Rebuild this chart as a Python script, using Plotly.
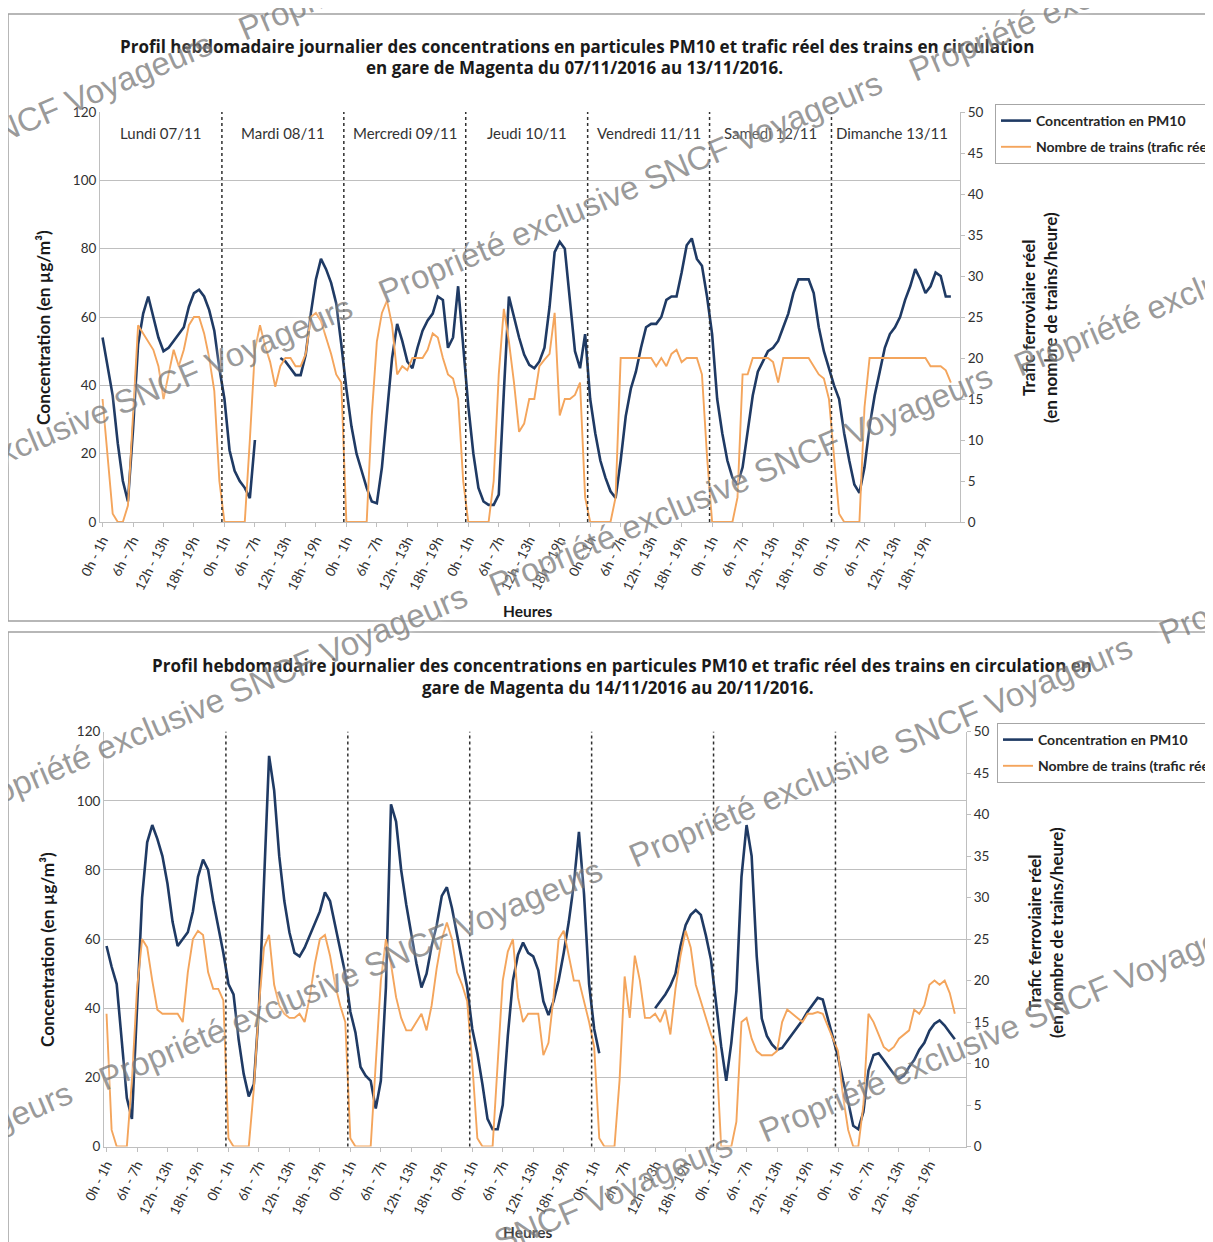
import plotly.graph_objects as go

W, H = 1213, 1242
OFF = 8  # page body margin of the browser


def PX(v):
    return (v - OFF) / W


def PY(v):
    return 1 - (v - OFF) / H


# ---------------- data ----------------
tick_hours = [0, 6, 12, 18]
tick_labels = ["0h - 1h", "6h - 7h", "12h - 13h", "18h - 19h"]

days_w1 = ["Lundi 07/11", "Mardi 08/11", "Mercredi 09/11", "Jeudi 10/11",
           "Vendredi 11/11", "Samedi 12/11", "Dimanche 13/11"]
days_w2 = ["Lundi 14/11", "Mardi 15/11", "Mercredi 16/11", "Jeudi 17/11",
           "Vendredi 18/11", "Samedi 19/11", "Dimanche 20/11"]

series_names = ["Concentration en PM10", "Nombre de trains (trafic réel)"]

# Semaine du 07/11 au 13/11 - concentration PM10 (µg/m³), une valeur par heure
pm10_w1 = (
    [54, 46, 37, 23, 12, 6, 27, 52, 61, 66, 60, 54, 50, 51, 53, 55, 57, 63, 67, 68, 66, 62, 56, 45]
    + [36, 21, 15, 12, 10, 7, 24, None, None, None, None, 48, 47, 45, 43, 43, 49, 61, 71, 77, 74, 70, 64, 52]
    + [39, 28, 20, 15, 10, 6, 5.5, 16, 32, 48, 58, 53, 47, 45, 51, 56, 59, 61, 66, 65, 51, 54, 69, 52]
    + [34, 20, 10, 6, 5, 5, 8, 38, 66, 60, 54, 49, 46, 45, 47, 51, 63, 79, 82, 80, 65, 50, 45, 55]
    + [36, 26, 18, 13, 9, 7, 18, 31, 39, 44, 51, 57, 58, 58, 60, 65, 66, 66, 73, 81, 83, 77, 75, 66]
    + [55, 36, 26, 18, 13, 11, 16, 26, 37, 44, 47, 50, 51, 53, 57, 61, 67, 71, 71, 71, 67, 57, 50, 45]
    + [40, 36, 26, 18, 11, 8.5, 16, 28, 37, 44, 51, 55, 57, 60, 65, 69, 74, 71, 67, 69, 73, 72, 66, 66]
)
# Semaine du 07/11 au 13/11 - nombre de trains par heure
trains_w1 = (
    [15, 8, 1, 0, 0, 2, 13, 24, 23, 22, 21, 19, 15, 18, 21, 19, 21, 24, 25, 25, 23, 20, 16, 5]
    + [0, 0, 0, 0, 0, 10, 21, 24, 21.5, 19.5, 16.5, 19, 20, 20, 19, 19, 20.5, 25, 25.5, 24.5, 22.5, 20.5, 18, 17]
    + [0, 0, 0, 0, 0, 13, 22, 25.5, 27, 24, 18, 19, 18.5, 20, 20, 20, 21, 23, 22.5, 20, 18, 17.5, 15, 5]
    + [0, 0, 0, 0, 0, 5, 18, 26, 22, 17, 11, 12, 15, 15, 19, 19.8, 20.5, 25.5, 13, 15, 15, 15.5, 17, 3]
    + [0, 0, 0, 0, 0, 3, 20, 20, 20, 20, 20, 20, 20, 19, 20, 19, 20.5, 21, 19.5, 20, 20, 20, 18, 8]
    + [0, 0, 0, 0, 0, 3, 18, 18, 20, 20, 20, 20, 19.5, 17, 20, 20, 20, 20, 20, 20, 19, 18, 17.5, 15]
    + [8, 1, 0, 0, 0, 0, 14, 20, 20, 20, 20, 20, 20, 20, 20, 20, 20, 20, 20, 19, 19, 19, 18.5, 17]
)
# Semaine du 14/11 au 20/11 - concentration PM10 (µg/m³)
pm10_w2 = (
    [58, 52, 47, 31, 14, 8, 39, 72, 88, 93, 89, 84, 76, 65, 58, 60, 62, 68, 78, 83, 80, 71, 64, 56]
    + [47, 44, 31, 21, 14.5, 18, 40, 75, 113, 103, 84, 71, 62, 56, 55, 57.5, 61, 64.5, 68, 73.5, 71, 64, 57, 50]
    + [39, 33, 23, 20.5, 19, 11, 19, 46, 99, 94, 80, 70, 61.5, 53, 46, 50, 58, 64, 72.5, 75, 69, 61, 54, 46]
    + [34, 27, 18, 8, 5, 5, 12, 32, 48, 55.5, 59, 56, 55, 51, 42, 38, 42, 48, 56, 65, 76, 91, 73, 47]
    + [34, 27, None, None, None, None, None, None, None, None, None, None, 40, 42, 44, 46.5, 50, 58, 64, 67, 68.4, 67, 61, 54]
    + [42, 29, 19, 30, 45, 78, 93, 84, 55, 37, 32, 29.5, 28, 28.5, 30.5, 32.5, 34.5, 36.5, 39, 41, 43, 42.5, 37, 32]
    + [26, 19, 13, 6, 5, 10, 22, 26.5, 27, 25, 23, 21, 19.5, 20.5, 23, 25, 28, 30, 33.5, 35.5, 36.5, 35, 33, 31]
)
# Semaine du 14/11 au 20/11 - nombre de trains par heure
trains_w2 = (
    [16, 2, 0, 0, 0, 8, 19, 25, 24, 20, 16.5, 16, 16, 16, 16, 15, 21, 25, 26, 25.5, 21, 19, 19, 17.6]
    + [1, 0, 0, 0, 0, 7, 17, 24, 25.5, 19.5, 17, 16, 15.5, 15.5, 16, 15, 18, 22, 25, 25.5, 23, 19.5, 17, 15]
    + [1, 0, 0, 0, 0, 10, 20, 25, 22, 18, 15.5, 14, 14, 15, 16, 14, 17, 21.5, 25, 27, 25, 21, 19.5, 17.5]
    + [10, 1, 0, 0, 0, 10, 20, 23.5, 25, 18, 15, 16, 16, 16, 11, 12.5, 18, 25, 26, 23, 20, 20, 17.5, 15]
    + [12, 1, 0, 0, 0, 8, 20.5, 15.5, 23, 20, 15.5, 15.5, 16, 15, 16.5, 13.5, 19, 23, 26, 24, 19.5, 17.5, 15.5, 13.5]
    + [12, 0, 0, 0, 3, 15, 15.5, 13, 11.5, 11, 11, 11, 11.5, 15, 16.5, 16, 15.5, 15, 16, 16, 16.2, 16, 14.5, 13]
    + [11.5, 6, 2, 0, 0, 5, 16, 15, 13.5, 12, 11.5, 12, 13, 13.5, 14, 16.5, 16, 17, 19.5, 20, 19.5, 20, 18.5, 16]
)

titles_w1 = ["Profil hebdomadaire journalier des concentrations en particules PM10 et trafic réel des trains en circulation",
             "en gare de Magenta du 07/11/2016 au 13/11/2016."]
titles_w2 = ["Profil hebdomadaire journalier des concentrations en particules PM10 et trafic réel des trains en circulation en",
             "gare de Magenta du 14/11/2016 au 20/11/2016."]

# ---------------- figure ----------------
hours = list(range(len(pm10_w1)))
n_days = len(days_w1)
tickvals = [d * 24 + h for d in range(n_days) for h in tick_hours]
ticktext = tick_labels * n_days

BLUE = "#1f3a64"
ORANGE = "#f4a55c"
GREY = "#bfbfbf"
FONT = "Lato"

fig = go.Figure()
fig.add_trace(go.Scatter(x=hours, y=pm10_w1, name=series_names[0], mode="lines", legendgroup="a",
                         line=dict(color=BLUE, width=2.6), xaxis="x", yaxis="y", legend="legend"))
fig.add_trace(go.Scatter(x=hours, y=trains_w1, name=series_names[1], mode="lines", legendgroup="b",
                         line=dict(color=ORANGE, width=1.9), xaxis="x", yaxis="y2", legend="legend"))
fig.add_trace(go.Scatter(x=hours, y=pm10_w2, name=series_names[0], mode="lines", legendgroup="c",
                         line=dict(color=BLUE, width=2.6), xaxis="x2", yaxis="y3", legend="legend2"))
fig.add_trace(go.Scatter(x=hours, y=trains_w2, name=series_names[1], mode="lines", legendgroup="d",
                         line=dict(color=ORANGE, width=1.9), xaxis="x2", yaxis="y4", legend="legend2"))

tickfont = dict(family=FONT, size=13.5, color="#303030")


def xaxis_cfg(domain, anchor, rng):
    return dict(domain=domain, anchor=anchor, range=rng, tickvals=tickvals, ticktext=ticktext,
                tickangle=-63, showgrid=False, zeroline=False, showline=True, linecolor=GREY,
                ticks="outside", ticklen=4, tickcolor=GREY, automargin=False,
                tickfont=dict(family=FONT, size=13.5, color="#303030"))


def yleft_cfg(domain, anchor):
    return dict(domain=domain, anchor=anchor, range=[0, 120], dtick=20, showgrid=True, gridcolor=GREY,
                gridwidth=1, zeroline=False, showline=True, linecolor=GREY, tickfont=tickfont,
                automargin=False)


def yright_cfg(over, anchor):
    return dict(overlaying=over, anchor=anchor, side="right", range=[0, 50], dtick=5, showgrid=False,
                zeroline=False, showline=True, linecolor=GREY, ticks="outside", ticklen=4,
                tickcolor=GREY, tickfont=tickfont, automargin=False)


legend_font = dict(family=FONT, size=14, color="#262626", weight="bold")
fig.update_layout(
    width=W, height=H, margin=dict(l=0, r=0, t=0, b=0, autoexpand=False),
    paper_bgcolor="white", plot_bgcolor="white",
    font=dict(family=FONT, color="#262626"),
    xaxis=xaxis_cfg([PX(100), PX(960)], "y", [-0.5, 168.8]),
    yaxis=yleft_cfg([PY(522), PY(112)], "x"),
    yaxis2=yright_cfg("y", "x"),
    xaxis2=xaxis_cfg([PX(104), PX(966)], "y3", [-0.5, 169.2]),
    yaxis3=yleft_cfg([PY(1146.5), PY(731.7)], "x2"),
    yaxis4=yright_cfg("y3", "x2"),
    legend=dict(x=PX(995), y=PY(104), xanchor="left", yanchor="top", bgcolor="white",
                bordercolor="#a6a6a6", borderwidth=1, font=legend_font, tracegroupgap=5),
    legend2=dict(x=PX(997), y=PY(723), xanchor="left", yanchor="top", bgcolor="white",
                 bordercolor="#a6a6a6", borderwidth=1, font=legend_font, tracegroupgap=5),
)

shapes = []
# panel borders
shapes.append(dict(type="rect", xref="paper", yref="paper", x0=PX(8), x1=1.05, y0=PY(621), y1=PY(14),
                   line=dict(color="#a0a0a0", width=1.5), fillcolor="rgba(0,0,0,0)", layer="below"))
shapes.append(dict(type="rect", xref="paper", yref="paper", x0=PX(8), x1=1.05, y0=-0.05, y1=PY(632),
                   line=dict(color="#a0a0a0", width=1.5), fillcolor="rgba(0,0,0,0)", layer="below"))
# day separators
for xr, yr in (("x", "y domain"), ("x2", "y3 domain")):
    for k in range(1, n_days):
        xb = k * 24 - 0.5
        shapes.append(dict(type="line", xref=xr, yref=yr, x0=xb, x1=xb, y0=0, y1=1,
                           line=dict(color="#303030", width=1.5, dash="dot")))
fig.update_layout(shapes=shapes)

ann = []
C = dict(xanchor="center", yanchor="middle", showarrow=False)
# day labels
day_font = dict(family=FONT, size=15, color="#333333")
for k, name in enumerate(days_w1):
    ann.append(dict(x=k * 24 + 11.5, y=114, xref="x", yref="y", text=name, font=day_font, **C))
for k, name in enumerate(days_w2):
    ann.append(dict(x=k * 24 + 11.5, y=124, xref="x2", yref="y3", text=name, font=day_font, **C))

# titles
tfont = dict(family="Open Sans", size=17, color="#1a1a1a", weight="bold")
for (txt, cx, cy) in ((titles_w1[0], 577, 46), (titles_w1[1], 574, 68),
                      (titles_w2[0], 622, 665), (titles_w2[1], 618, 687)):
    ann.append(dict(x=PX(cx), y=PY(cy), xref="paper", yref="paper", text=txt, font=tfont, **C))

# axis titles
afont = dict(family=FONT, size=17.3, color="#1a1a1a", weight="bold")
rfont = dict(family=FONT, size=17, color="#1a1a1a", weight="bold")
for (lx, ly), (rx, ry), hy in (((43, 328), (1039, 318), 611), ((47, 950), (1045, 933), 1232)):
    ann.append(dict(x=PX(lx), y=PY(ly), xref="paper", yref="paper",
                    text="Concentration (en µg/m³)", textangle=-90, font=afont, **C))
    ann.append(dict(x=PX(rx), y=PY(ry), xref="paper", yref="paper",
                    text="Trafic ferroviaire réel<br>(en nombre de trains/heure)", textangle=-90,
                    font=rfont, **C))
    ann.append(dict(x=PX(528), y=PY(hy), xref="paper", yref="paper", text="Heures",
                    font=dict(family=FONT, size=15.5, color="#1a1a1a", weight="bold"), **C))

# watermark
wm_text = "Propriété exclusive SNCF Voyageurs"
wm_centers = [(-40, 148), (490, -75), (100, 411), (630, 188), (1160, -35),
              (215, 700), (740, 480), (1265, 260), (-180, 1197), (350, 974),
              (880, 751), (1410, 528), (480, 1249), (1010, 1026)]
for cx, cy in wm_centers:
    ann.append(dict(x=PX(cx), y=PY(cy), xref="paper", yref="paper", text=wm_text, textangle=-23,
                    font=dict(family="Liberation Sans", size=33, color="rgba(115,115,115,0.72)",
                              shadow="0px 0px 7px white"), **C))
fig.update_layout(annotations=ann)

fig.write_html("out.html")
